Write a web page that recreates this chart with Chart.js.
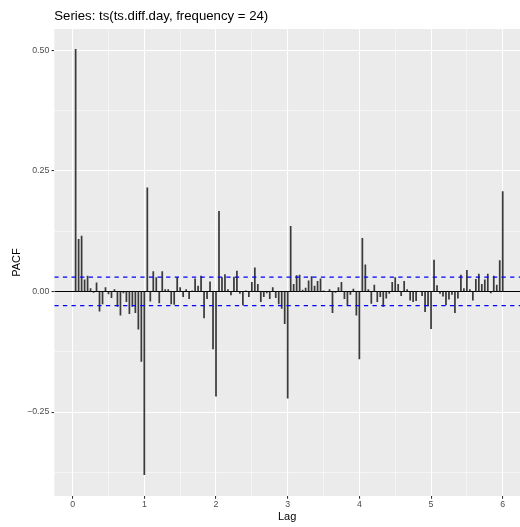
<!DOCTYPE html>
<html>
<head>
<meta charset="utf-8">
<title>PACF</title>
<script src="https://cdn.jsdelivr.net/npm/chart.js@4/dist/chart.umd.min.js"></script>
<style>
  html, body { margin: 0; padding: 0; background: #ffffff; overflow: hidden; }
  #wrap { width: 520px; height: 527px; }
</style>
</head>
<body>
<div id="wrap"><canvas id="c" width="520" height="527"></canvas></div>
<script>
// Seasonal frequency of the series (observations per day)
const FREQUENCY = 24;

// Partial autocorrelation at lags 1..144 (lag in days = k / FREQUENCY)
const pacfValues = [
   0.502,  0.108,  0.115,  0.024,  0.032,  0.006, -0.002,  0.018, -0.041, -0.026,
   0.008, -0.005, -0.013,  0.004, -0.031, -0.049, -0.003, -0.021, -0.046, -0.031,
  -0.044, -0.078, -0.145, -0.380,  0.215, -0.020,  0.041,  0.029, -0.024,  0.041,
   0.004,  0.004, -0.026, -0.027,  0.029,  0.008, -0.011,  0.004, -0.015,  0.001,
   0.026,  0.011,  0.032, -0.055, -0.015,  0.020, -0.119, -0.217,  0.166,  0.029,
   0.035,  0.004, -0.007,  0.030,  0.042, -0.004, -0.028,  0.001, -0.011,  0.019,
   0.049,  0.015, -0.021, -0.011, -0.003, -0.015,  0.008, -0.013, -0.026, -0.035,
  -0.067, -0.221,  0.135,  0.015,  0.033,  0.034,  0.003,  0.007,  0.022,  0.031,
   0.011,  0.021,  0.026,  0.001,  0.000,  0.004, -0.044, -0.002,  0.008,  0.019,
  -0.015, -0.028, -0.006,  0.005, -0.049, -0.140,  0.110,  0.055,  0.004, -0.025,
   0.013, -0.021, -0.011, -0.031, -0.014, -0.004,  0.019,  0.029,  0.015, -0.009,
   0.021,  0.004, -0.018, -0.021, -0.019,  0.000, -0.009, -0.042, -0.030, -0.077,
   0.065,  0.012, -0.004, -0.010, -0.028, -0.016, -0.006, -0.044, -0.014,  0.034,
   0.006,  0.044,  0.004, -0.018,  0.025,  0.036,  0.015,  0.024,  0.036, -0.003,
   0.032,  0.013,  0.064,  0.207
];

// Lags in days
const lags = pacfValues.map((_, i) => (i + 1) / FREQUENCY);

// 95% significance bound
const ciLimit = 0.0295;

// Axis ticks (major carry labels, minor only grid lines)
const xMajorTicks = [0, 1, 2, 3, 4, 5, 6];
const xMinorTicks = [0.5, 1.5, 2.5, 3.5, 4.5, 5.5];
const yMajorTicks = [-0.25, 0, 0.25, 0.5];
const yMinorTicks = [-0.375, -0.125, 0.125, 0.375];

const X_MIN = -0.256, X_MAX = 6.241;
const Y_MIN = -0.424, Y_MAX = 0.544;

const seriesTitle = 'Series: ts(ts.diff.day, frequency = 24)';

const isMajor = (v, list) => list.some(t => Math.abs(t - v) < 1e-9);
const fmtY = v => {
  const s = Math.abs(v).toFixed(2);
  return v < -1e-9 ? '\u2212' + s : s;
};

Chart.defaults.font.family = "'Liberation Sans', Arial, sans-serif";

// Grey panel behind the plotting region
const panelBackground = {
  id: 'panelBackground',
  beforeDraw(chart) {
    const { ctx, chartArea: a } = chart;
    ctx.save();
    ctx.fillStyle = '#EBEBEB';
    ctx.fillRect(a.left, a.top, a.right - a.left, a.bottom - a.top);
    ctx.restore();
  }
};

const hline = (y, color, width, dash, order) => ({
  type: 'line',
  data: [{ x: X_MIN, y }, { x: X_MAX, y }],
  borderColor: color,
  borderWidth: width,
  borderDash: dash,
  pointRadius: 0,
  fill: false,
  order
});

new Chart(document.getElementById('c'), {
  type: 'bar',
  data: {
    datasets: [
      hline(0, '#000000', 1.07, [], 3),
      {
        type: 'bar',
        data: lags.map((x, i) => ({ x, y: pacfValues[i] })),
        backgroundColor: '#3a3a3a',
        borderWidth: 0,
        barThickness: 1.07,
        grouped: false,
        order: 2
      },
      hline(ciLimit, '#0000FF', 1.3, [4.3, 4.3], 1),
      hline(-ciLimit, '#0000FF', 1.3, [4.3, 4.3], 1)
    ]
  },
  options: {
    responsive: false,
    animation: false,
    devicePixelRatio: 1,
    layout: { padding: 0 },
    plugins: {
      legend: { display: false },
      tooltip: { enabled: false },
      title: {
        display: true,
        text: seriesTitle,
        align: 'start',
        fullSize: false,
        color: '#000000',
        font: { size: 13.2, weight: 'normal' },
        padding: { top: 8.8, bottom: 4.36 }
      }
    },
    scales: {
      x: {
        type: 'linear',
        min: X_MIN,
        max: X_MAX,
        offset: false,
        afterBuildTicks: s => { s.ticks = xMajorTicks.concat(xMinorTicks).sort((a, b) => a - b).map(v => ({ value: v })); },
        afterFit: s => { s.height = 31; },
        border: { display: false },
        grid: {
          offset: false,
          color: '#FFFFFF',
          lineWidth: c => (c.tick && isMajor(c.tick.value, xMajorTicks)) ? 1.07 : 0.53,
          tickColor: c => (c.tick && isMajor(c.tick.value, xMajorTicks)) ? '#333333' : 'rgba(0,0,0,0)',
          tickWidth: 1.07,
          tickLength: 2.75,
          drawTicks: true
        },
        ticks: {
          autoSkip: false,
          maxRotation: 0,
          padding: 1,
          color: '#4D4D4D',
          font: { size: 8.8 },
          callback: v => isMajor(v, xMajorTicks) ? String(v) : ''
        },
        title: {
          display: true,
          text: 'Lag',
          color: '#000000',
          font: { size: 11 },
          padding: { top: 0, bottom: 3.5 }
        }
      },
      y: {
        type: 'linear',
        min: Y_MIN,
        max: Y_MAX,
        afterBuildTicks: s => { s.ticks = yMajorTicks.concat(yMinorTicks).sort((a, b) => a - b).map(v => ({ value: v })); },
        afterFit: s => { s.width = 54.3; },
        border: { display: false },
        grid: {
          offset: false,
          color: '#FFFFFF',
          lineWidth: c => (c.tick && isMajor(c.tick.value, yMajorTicks)) ? 1.07 : 0.53,
          tickColor: c => (c.tick && isMajor(c.tick.value, yMajorTicks)) ? '#333333' : 'rgba(0,0,0,0)',
          tickWidth: 1.07,
          tickLength: 2.75,
          drawTicks: true
        },
        ticks: {
          autoSkip: false,
          padding: 2.2,
          color: '#4D4D4D',
          font: { size: 8.8 },
          callback: v => isMajor(v, yMajorTicks) ? fmtY(v) : ''
        },
        title: {
          display: true,
          text: 'PACF',
          color: '#000000',
          font: { size: 11 },
          padding: { top: 10.4, bottom: 0 }
        }
      }
    }
  },
  plugins: [panelBackground]
});
</script>
</body>
</html>
